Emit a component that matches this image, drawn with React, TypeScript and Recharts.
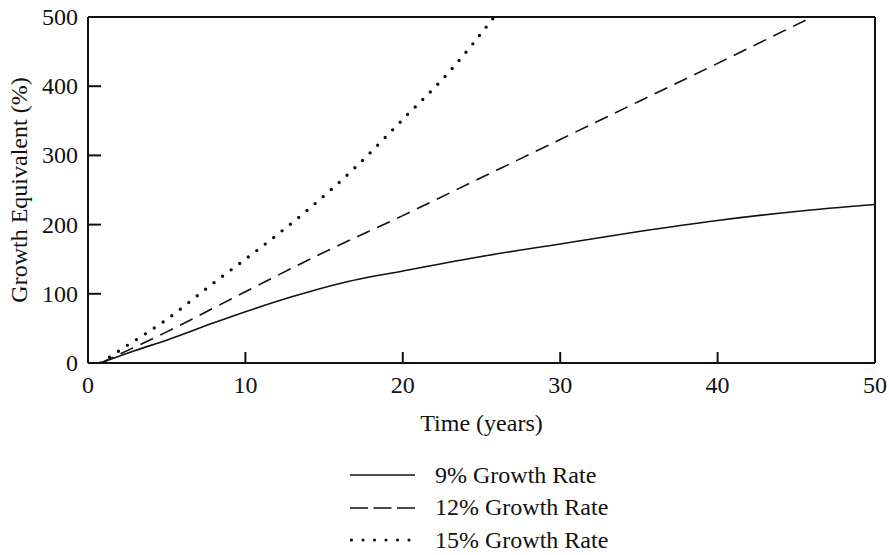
import { LineChart, Line, XAxis, YAxis, ReferenceLine } from "recharts";

const FONT = "'Liberation Serif', 'DejaVu Serif', serif";
const INK = "#111";

// x = time (years), y = growth equivalent (%)
const YEARS_9 = [0.8, 3, 5, 8, 10, 13, 16, 20, 25, 30, 35, 40, 45, 50];
const GROWTH_9 = [0, 18, 33, 58, 74, 96, 115, 133, 154, 172, 190, 206, 219, 229];

const YEARS_12 = [0.8, 5, 10, 15, 20, 25, 30, 35, 40, 46];
const GROWTH_12 = [0, 45, 103, 160, 213, 268, 323, 378, 433, 500];

const YEARS_15 = [0.8, 2, 5, 8, 10, 12, 14, 17, 20, 23, 25.8];
const GROWTH_15 = [0, 18, 63, 116, 150, 185, 222, 283, 352, 422, 500];

const X_TICKS = [0, 10, 20, 30, 40, 50];
const Y_TICKS = [0, 100, 200, 300, 400, 500];

const SERIES = [
  { name: "9% Growth Rate", years: YEARS_9, values: GROWTH_9, dash: undefined, width: 1.6, cap: "butt" },
  { name: "12% Growth Rate", years: YEARS_12, values: GROWTH_12, dash: "14 8", width: 1.6, cap: "butt" },
  { name: "15% Growth Rate", years: YEARS_15, values: GROWTH_15, dash: "0 10.7", width: 3.4, cap: "round" },
];

const toRows = (xs: number[], ys: number[]) => xs.map((x, i) => ({ x, y: ys[i] }));

const FS = 24;

// ticks point into the plot, so the mark is drawn together with the label
const XTick = ({ x, y, payload }: any) => (
  <g>
    <path d={`M${x},${y}V${y - 11}`} stroke={INK} strokeWidth={2} fill="none" />
    <text x={x} y={y + 30} textAnchor="middle" fontSize={FS} fontFamily={FONT} fill={INK}>
      {payload.value}
    </text>
  </g>
);

const YTick = ({ x, y, payload }: any) => (
  <g>
    <path d={`M${x},${y}H${x + 13}`} stroke={INK} strokeWidth={2} fill="none" />
    <text x={x - 10} y={y + 8} textAnchor="end" fontSize={FS} fontFamily={FONT} fill={INK}>
      {payload.value}
    </text>
  </g>
);

function LegendBlock() {
  const samples = [
    <line x1={0} y1={8} x2={65} y2={8} stroke={INK} strokeWidth={1.6} />,
    <line x1={0} y1={8} x2={65} y2={8} stroke={INK} strokeWidth={1.6} strokeDasharray="18 5.5" />,
    <line x1={1.5} y1={8} x2={65} y2={8} stroke={INK} strokeWidth={3.2} strokeDasharray="0 11.5" strokeLinecap="round" />,
  ];
  return (
    <div style={{ position: "absolute", left: 350, top: 459, fontFamily: FONT, fontSize: FS, color: INK }}>
      {SERIES.map((s, i) => (
        <div key={s.name} style={{ display: "flex", alignItems: "center", height: 32.5 }}>
          <svg width={65} height={16} style={{ marginRight: 20 }}>{samples[i]}</svg>
          <span>{s.name}</span>
        </div>
      ))}
    </div>
  );
}

export default function App() {
  return (
    <div style={{ position: "fixed", left: 0, top: 0, width: 889, height: 555, fontFamily: FONT, background: "#fff" }}>
      <LineChart width={889} height={555} margin={{ top: 17, right: 14, left: 0, bottom: 112 }}>
        <XAxis
          type="number"
          dataKey="x"
          domain={[0, 50]}
          ticks={X_TICKS}
          height={80}
          tickSize={0}
          tickMargin={0}
          tick={<XTick />}
          axisLine={{ stroke: INK, strokeWidth: 2 }}
          tickLine={false}
          allowDataOverflow
          label={{
            content: (props: any) => {
              const vb = props.viewBox;
              return (
                <text x={vb.x + vb.width / 2} y={431} textAnchor="middle" fontSize={FS} fontFamily={FONT} fill={INK}>
                  Time (years)
                </text>
              );
            },
          }}
        />
        <YAxis
          type="number"
          domain={[0, 500]}
          ticks={Y_TICKS}
          width={88}
          tickSize={0}
          tickMargin={0}
          tick={<YTick />}
          axisLine={{ stroke: INK, strokeWidth: 2 }}
          tickLine={false}
          allowDataOverflow
          label={{
            content: (props: any) => {
              const vb = props.viewBox;
              const cy = vb.y + vb.height / 2;
              return (
                <text x={19} y={cy} transform={`rotate(-90 19 ${cy})`} textAnchor="middle" dominantBaseline="central" fontSize={FS} fontFamily={FONT} fill={INK}>
                  Growth Equivalent (%)
                </text>
              );
            },
          }}
        />
        <ReferenceLine y={500} stroke={INK} strokeWidth={2} />
        <ReferenceLine x={50} stroke={INK} strokeWidth={2} />
        {SERIES.map((s) => (
          <Line
            key={s.name}
            data={toRows(s.years, s.values)}
            dataKey="y"
            name={s.name}
            type="monotone"
            stroke={INK}
            strokeWidth={s.width}
            strokeDasharray={s.dash}
            strokeLinecap={s.cap as any}
            dot={false}
            activeDot={false}
            isAnimationActive={false}
          />
        ))}
      </LineChart>
      <LegendBlock />
    </div>
  );
}
